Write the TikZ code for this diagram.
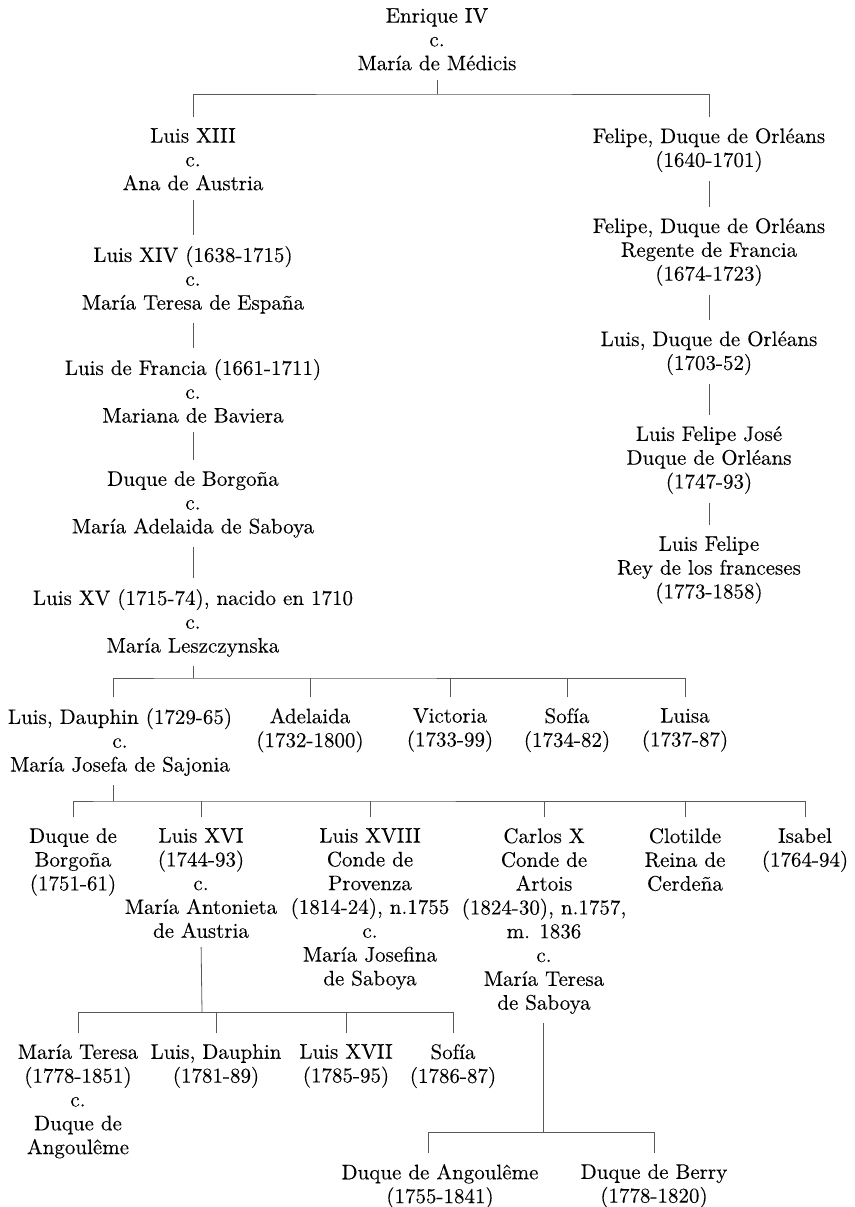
\documentclass[tikz,border=0pt]{standalone}
\usepackage{fontspec}
\newfontfamily\treefont{lmroman10-regular.otf}[FakeBold=0.15]
\begin{document}
\begin{tikzpicture}[x=1pt,y=-1pt,
  person/.style={anchor=north,align=center,inner sep=0pt,font=\treefont\fontsize{21}{23.8}\selectfont},
  kin/.style={draw=black!65,line width=.8pt},
  drop/.style={kin,shorten <=9pt},
  stub/.style={kin,shorten <=11pt},
  span/.style={kin,shorten <=11pt,shorten >=11pt},
  link/.style={kin,shorten <=9pt,shorten >=11pt}]
\useasboundingbox (0,0) rectangle (854,1207);
%
\node[person] (enrique) at (437,8) {Enrique IV\\c.\\María de Médicis};
\coordinate (b0) at (437,94);
\node[person] (luis13) at (193,128) {Luis XIII\\c.\\Ana de Austria};
\node[person] (felipe1) at (709,128) {Felipe, Duque de Orléans\\(1640-1701)};
\draw[drop] (enrique.south) -- (b0);
\draw[span] (luis13.north) |- (b0) -| (felipe1.north);
%
% Orleans line
\node[person] (felipe2) at (709,218) {Felipe, Duque de Orléans\\Regente de Francia\\(1674-1723)};
\node[person] (luisorl) at (709,331) {Luis, Duque de Orléans\\(1703-52)};
\node[person] (lfjose) at (709,426) {Luis Felipe José\\Duque de Orléans\\(1747-93)};
\node[person] (lfelipe) at (709,536) {Luis Felipe\\Rey de los franceses\\(1773-1858)};
\draw[link] (felipe1.south) -- (felipe2.north);
\draw[link] (felipe2.south) -- (luisorl.north);
\draw[link] (luisorl.south) -- (lfjose.north);
\draw[link] (lfjose.south) -- (lfelipe.north);
%
% Bourbon line
\node[person] (luis14) at (193,246) {Luis XIV (1638-1715)\\c.\\María Teresa de España};
\node[person] (luisfr) at (193,359) {Luis de Francia (1661-1711)\\c.\\Mariana de Baviera};
\node[person] (borgona) at (193,471) {Duque de Borgoña\\c.\\María Adelaida de Saboya};
\node[person] (luis15) at (193,589) {Luis XV (1715-74), nacido en 1710\\c.\\María Leszczynska};
\draw[link] (luis13.south) -- (luis14.north);
\draw[link] (luis14.south) -- (luisfr.north);
\draw[link] (luisfr.south) -- (borgona.north);
\draw[link] (borgona.south) -- (luis15.north);
%
\coordinate (b1) at (193,678);
\node[person] (dauphin) at (120,708) {Luis, Dauphin (1729-65)\\c.\\María Josefa de Sajonia};
\node[person] (adelaida) at (310,708) {Adelaida\\(1732-1800)};
\node[person] (victoria) at (450,708) {Victoria\\(1733-99)};
\node[person] (sofia) at (567,708) {Sofía\\(1734-82)};
\node[person] (luisa) at (685,708) {Luisa\\(1737-87)};
\draw[drop] (luis15.south) -- (b1);
\draw[span] ([xshift=-7pt]dauphin.north) |- (b1) -| (luisa.north);
\draw[stub] (adelaida.north) -- (adelaida.north |- b1);
\draw[stub] (victoria.north) -- (victoria.north |- b1);
\draw[stub] (sofia.north) -- (sofia.north |- b1);
%
\coordinate (b2) at (113,801);
\node[person] (duqueb) at (73,828) {Duque de\\Borgoña\\(1751-61)};
\node[person] (luis16) at (201,828) {Luis XVI\\(1744-93)\\c.\\María Antonieta\\de Austria};
\node[person] (luis18) at (370,828) {Luis XVIII\\Conde de\\Provenza\\(1814-24), n.1755\\c.\\María Josefina\\de Saboya};
\node[person] (carlos) at (544,828) {Carlos X\\Conde de\\Artois\\(1824-30), n.1757,\\m. 1836\\c.\\María Teresa\\de Saboya};
\node[person] (clotilde) at (685,828) {Clotilde\\Reina de\\Cerdeña};
\node[person] (isabel) at (805,828) {Isabel\\(1764-94)};
\draw[drop] ([xshift=-7pt]dauphin.south) -- (b2);
\draw[span] (duqueb.north) |- (b2) -| (isabel.north);
\draw[stub] (luis16.north) -- (luis16.north |- b2);
\draw[stub] (luis18.north) -- (luis18.north |- b2);
\draw[stub] (carlos.north) -- (carlos.north |- b2);
\draw[stub] (clotilde.north) -- (clotilde.north |- b2);
%
\coordinate (b3) at (202,1012);
\node[person] (mteresa) at (78,1044) {María Teresa\\(1778-1851)\\c.\\Duque de\\Angoulême};
\node[person] (ldauphin) at (216,1044) {Luis, Dauphin\\(1781-89)};
\node[person] (luis17) at (346,1044) {Luis XVII\\(1785-95)};
\node[person] (sofia2) at (453,1044) {Sofía\\(1786-87)};
\draw[drop] (luis16.south) -- (b3);
\draw[span] (mteresa.north) |- (b3) -| (sofia2.north);
\draw[stub] (ldauphin.north) -- (ldauphin.north |- b3);
\draw[stub] (luis17.north) -- (luis17.north |- b3);
%
\coordinate (b4) at (543,1132);
\node[person] (angouleme) at (440,1164) {Duque de Angoulême\\(1755-1841)};
\node[person] (berry) at (654,1164) {Duque de Berry\\(1778-1820)};
\draw[drop] ([xshift=-1pt]carlos.south) -- (b4);
\draw[span] ([xshift=-12pt]angouleme.north) |- (b4) -| (berry.north);
\end{tikzpicture}
\end{document}
